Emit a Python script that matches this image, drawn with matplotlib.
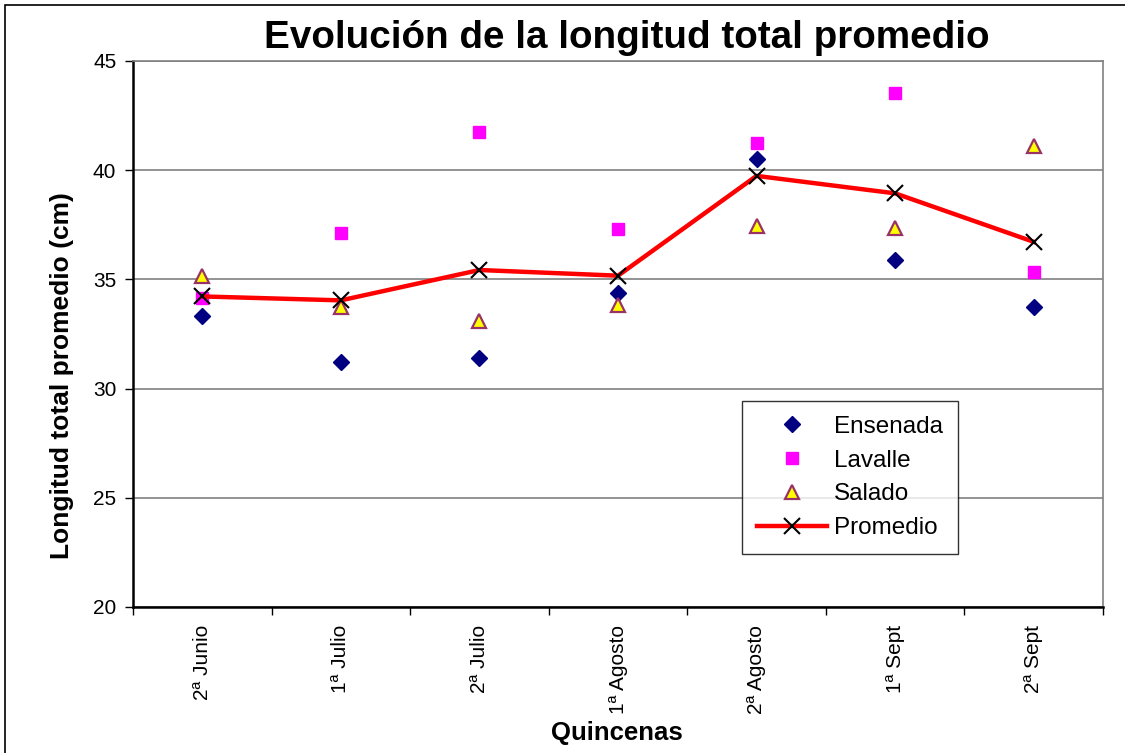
import matplotlib
matplotlib.use("Agg")
import numpy as np
import matplotlib.pyplot as plt
from matplotlib.patches import Rectangle

plt.rcParams["font.family"] = ["Liberation Sans", "DejaVu Sans"]

quincenas = ["2ª Junio", "1ª Julio", "2ª Julio", "1ª Agosto", "2ª Agosto", "1ª Sept", "2ª Sept"]
ensenada = [33.34, 31.23, 31.42, 34.36, 40.50, 35.89, 33.72]
lavalle = [34.16, 37.14, 41.75, 37.32, 41.26, 43.55, 35.32]
salado = [35.16, 33.75, 33.11, 33.83, 37.46, 37.37, 41.11]
promedio = [34.22, 34.04, 35.43, 35.17, 39.74, 38.94, 36.72]

W, H = 1125, 753
fig = plt.figure(figsize=(W / 100, H / 100), dpi=100)
ax = fig.add_axes([133 / W, 1 - 607 / H, (1103 - 133) / W, (607 - 61) / H])

x = np.arange(len(quincenas))

ax.plot(x, ensenada, linestyle="none", marker="D", markersize=8, color="#000080",
        markeredgecolor="#000080", label="Ensenada", zorder=3)
ax.plot(x, lavalle, linestyle="none", marker="s", markersize=9, color="#FF00FF",
        markeredgecolor="#FF00FF", label="Lavalle", zorder=3)
ax.plot(x, salado, linestyle="none", marker="^", markersize=10, color="#FFFF00",
        markeredgecolor="#993366", markeredgewidth=1.6, label="Salado", zorder=3)
ax.plot(x, promedio, color="#FF0000", linewidth=3.2, marker="x", markersize=11,
        markeredgecolor="black", markeredgewidth=1.5, label="Promedio", zorder=4)

ax.set_xlim(-0.5, len(quincenas) - 0.5)
ax.set_ylim(20, 45)
ax.set_yticks([20, 25, 30, 35, 40, 45])
ax.yaxis.grid(True, color="#808080", linewidth=1.2)
ax.set_axisbelow(True)

ax.set_xticks(x)
ax.set_xticklabels(quincenas, rotation=90, fontsize=15, va="top", ha="center")
ax.set_xticks(np.arange(-0.5, len(quincenas)), minor=True)
ax.tick_params(axis="x", which="major", length=0, pad=13)
ax.tick_params(axis="x", which="minor", length=6, width=1, color="black")
ax.tick_params(axis="y", labelsize=15, length=6, width=1, pad=6)

for side in ["top", "right"]:
    ax.spines[side].set_color("#808080")
    ax.spines[side].set_linewidth(1.2)
for side in ["left", "bottom"]:
    ax.spines[side].set_color("black")
    ax.spines[side].set_linewidth(1.8)

# axis titles placed like the original sheet
fig.text(62 / W, 1 - 376 / H, "Longitud total promedio (cm)", rotation=90,
         fontsize=19, fontweight="bold", ha="center", va="center")
fig.text(617 / W, 1 - 733 / H, "Quincenas", fontsize=18.5, fontweight="bold",
         ha="center", va="center")
fig.text(627 / W, 1 - 38 / H, "Evolución de la longitud total promedio",
         fontsize=27.8, fontweight="bold", ha="center", va="center")

leg = ax.legend(loc="upper left", bbox_to_anchor=((742 - 133) / 970, (607 - 401) / 546),
                fontsize=17.5, frameon=True, fancybox=False, edgecolor="black",
                borderpad=0.6, labelspacing=0.49, handlelength=2.9,
                handletextpad=0.3, borderaxespad=0)
leg.get_frame().set_linewidth(1.0)

fig.patches.append(Rectangle((5 / W, -0.01), 1.1, 1 - 5 / H + 0.01,
                             transform=fig.transFigure, fill=False,
                             edgecolor="black", linewidth=1.2))

fig.savefig("out.png", dpi=100)
